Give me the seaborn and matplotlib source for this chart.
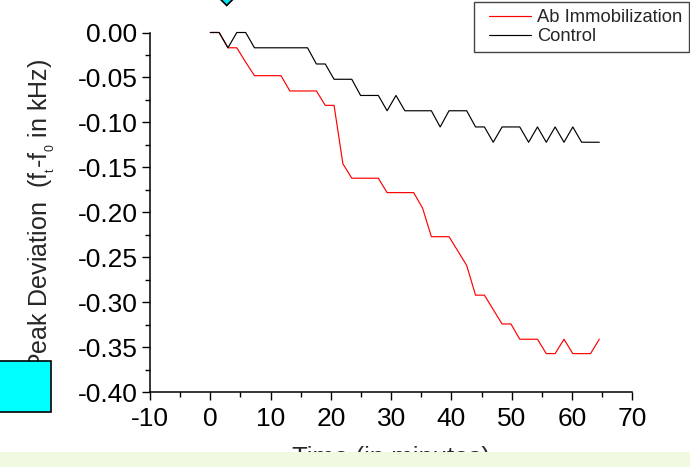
import matplotlib
matplotlib.use("Agg")
import matplotlib.pyplot as plt
import matplotlib.patches as mpatches
from matplotlib.lines import Line2D
from matplotlib.legend_handler import HandlerLine2D
from matplotlib.ticker import MultipleLocator, FormatStrFormatter
import seaborn as sns
import pandas as pd

# ---- data ----
times = [0.00, 1.47, 2.93, 4.40, 5.87, 7.33, 8.80, 10.27, 11.73, 13.20, 14.67,
         16.13, 17.60, 19.07, 20.53, 22.00, 23.47, 24.93, 26.40, 27.87, 29.33,
         30.80, 32.27, 33.73, 35.20, 36.67, 38.13, 39.60, 41.07, 42.53, 44.00,
         45.47, 46.93, 48.40, 49.87, 51.33, 52.80, 54.27, 55.73, 57.20, 58.67,
         60.13, 61.60, 63.07, 64.53]

ab_immobilization = [0.000, 0.000, -0.017, -0.017, -0.033, -0.048, -0.048, -0.048,
                     -0.048, -0.065, -0.065, -0.065, -0.065, -0.081, -0.081, -0.146,
                     -0.162, -0.162, -0.162, -0.162, -0.178, -0.178, -0.178, -0.178,
                     -0.195, -0.227, -0.227, -0.227, -0.243, -0.259, -0.292, -0.292,
                     -0.308, -0.324, -0.324, -0.341, -0.341, -0.341, -0.357, -0.357,
                     -0.341, -0.357, -0.357, -0.357, -0.341]

control = [0.000, 0.000, -0.017, 0.000, 0.000, -0.017, -0.017, -0.017, -0.017,
           -0.017, -0.017, -0.017, -0.035, -0.035, -0.052, -0.052, -0.052, -0.070,
           -0.070, -0.070, -0.087, -0.070, -0.087, -0.087, -0.087, -0.087, -0.105,
           -0.087, -0.087, -0.087, -0.105, -0.105, -0.122, -0.105, -0.105, -0.105,
           -0.122, -0.105, -0.122, -0.105, -0.122, -0.105, -0.122, -0.122, -0.122]

series_names = ["Ab Immobilization", "Control"]
series_colors = ["#ff0000", "#000000"]
x_ticks = [-10, 0, 10, 20, 30, 40, 50, 60, 70]
y_ticks = [-0.40, -0.35, -0.30, -0.25, -0.20, -0.15, -0.10, -0.05, 0.00]

df = pd.DataFrame({
    "time": times + times,
    "dev": ab_immobilization + control,
    "series": [series_names[0]] * len(times) + [series_names[1]] * len(times),
})

sns.set_style("ticks")
plt.rcParams["font.family"] = ["Liberation Sans", "DejaVu Sans"]
plt.rcParams["mathtext.fontset"] = "custom"
plt.rcParams["mathtext.rm"] = "Liberation Sans"
plt.rcParams["mathtext.it"] = "Liberation Sans"
plt.rcParams["axes.unicode_minus"] = False

W, H = 690, 467
fig = plt.figure(figsize=(6.9, 4.67), dpi=100)
fig.patch.set_facecolor("white")
ax = fig.add_axes([150 / W, 1 - 392.3 / H, (632.3 - 150) / W, (392.3 - 32.5) / H])

sns.lineplot(data=df, x="time", y="dev", hue="series", hue_order=series_names,
             palette=series_colors, linewidth=0.85, ax=ax, legend=True,
             estimator=None, sort=False)
for ln in ax.get_lines():
    ln.set_clip_on(False)

ax.set_xlim(-10, 70)
ax.set_ylim(-0.40, 0.00)
ax.set_xticks(x_ticks)
ax.set_yticks(y_ticks)
ax.xaxis.set_minor_locator(MultipleLocator(5))
ax.yaxis.set_minor_locator(MultipleLocator(0.025))
ax.yaxis.set_major_formatter(FormatStrFormatter("%.2f"))
ax.xaxis.set_major_formatter(FormatStrFormatter("%d"))
for s in ["top", "right"]:
    ax.spines[s].set_visible(False)
for s in ["left", "bottom"]:
    ax.spines[s].set_linewidth(1.1)
    ax.spines[s].set_color("black")
ax.tick_params(which="major", direction="out", length=6, width=1.0, labelsize=19,
               colors="black")
ax.tick_params(axis="y", which="major", pad=3)
ax.tick_params(axis="x", which="major", pad=4.5)
ax.tick_params(which="minor", direction="out", length=3.4, width=1.0, colors="black")
ax.set_xlabel("")
ax.set_ylabel("")
ax.set_facecolor("white")
ax.grid(False)

handles, labels = ax.get_legend_handles_labels()
leg = ax.legend(handles, labels, loc="upper right",
                bbox_to_anchor=(689 / W, 1 - 2 / H), bbox_transform=fig.transFigure,
                fontsize=13.2, handlelength=2.75, handletextpad=0.3,
                borderpad=0.38, labelspacing=0.12, borderaxespad=0,
                fancybox=False, framealpha=1, edgecolor="#444444",
                handler_map={Line2D: HandlerLine2D(xpad=0.45)})
leg.get_frame().set_linewidth(1.0)

# axis titles
fig.text(27 / W, 1 - 214 / H,
         r"Peak Deviation  (f$_{_\mathrm{t}}$-f$_{_\mathrm{0}}$ in kHz)",
         rotation=90, ha="left", va="center", fontsize=18)
fig.text(391 / W, 1 - 446 / H, "Time (in minutes)", ha="center", va="top",
         fontsize=18.5)

# decorative artifacts from the reference figure
fig.patches.append(mpatches.Rectangle((0, 0), 1, 15 / H, transform=fig.transFigure,
                                      facecolor="#f2f9e1", edgecolor="none", zorder=20))
fig.patches.append(mpatches.Rectangle((-5 / W, 1 - 412 / H), 55.7 / W, 51.3 / H,
                                      transform=fig.transFigure, facecolor="#00ffff",
                                      edgecolor="black", linewidth=1.2, zorder=20))
cx, cy, h = 226.7, -5.0, 10.5
diamond = [((cx) / W, 1 - (cy - h) / H), ((cx + h) / W, 1 - cy / H),
           ((cx) / W, 1 - (cy + h) / H), ((cx - h) / W, 1 - cy / H)]
fig.patches.append(mpatches.Polygon(diamond, closed=True, transform=fig.transFigure,
                                    facecolor="#00e5ee", edgecolor="black",
                                    linewidth=1.2, zorder=20))

fig.savefig("out.png", dpi=100, facecolor="white")
